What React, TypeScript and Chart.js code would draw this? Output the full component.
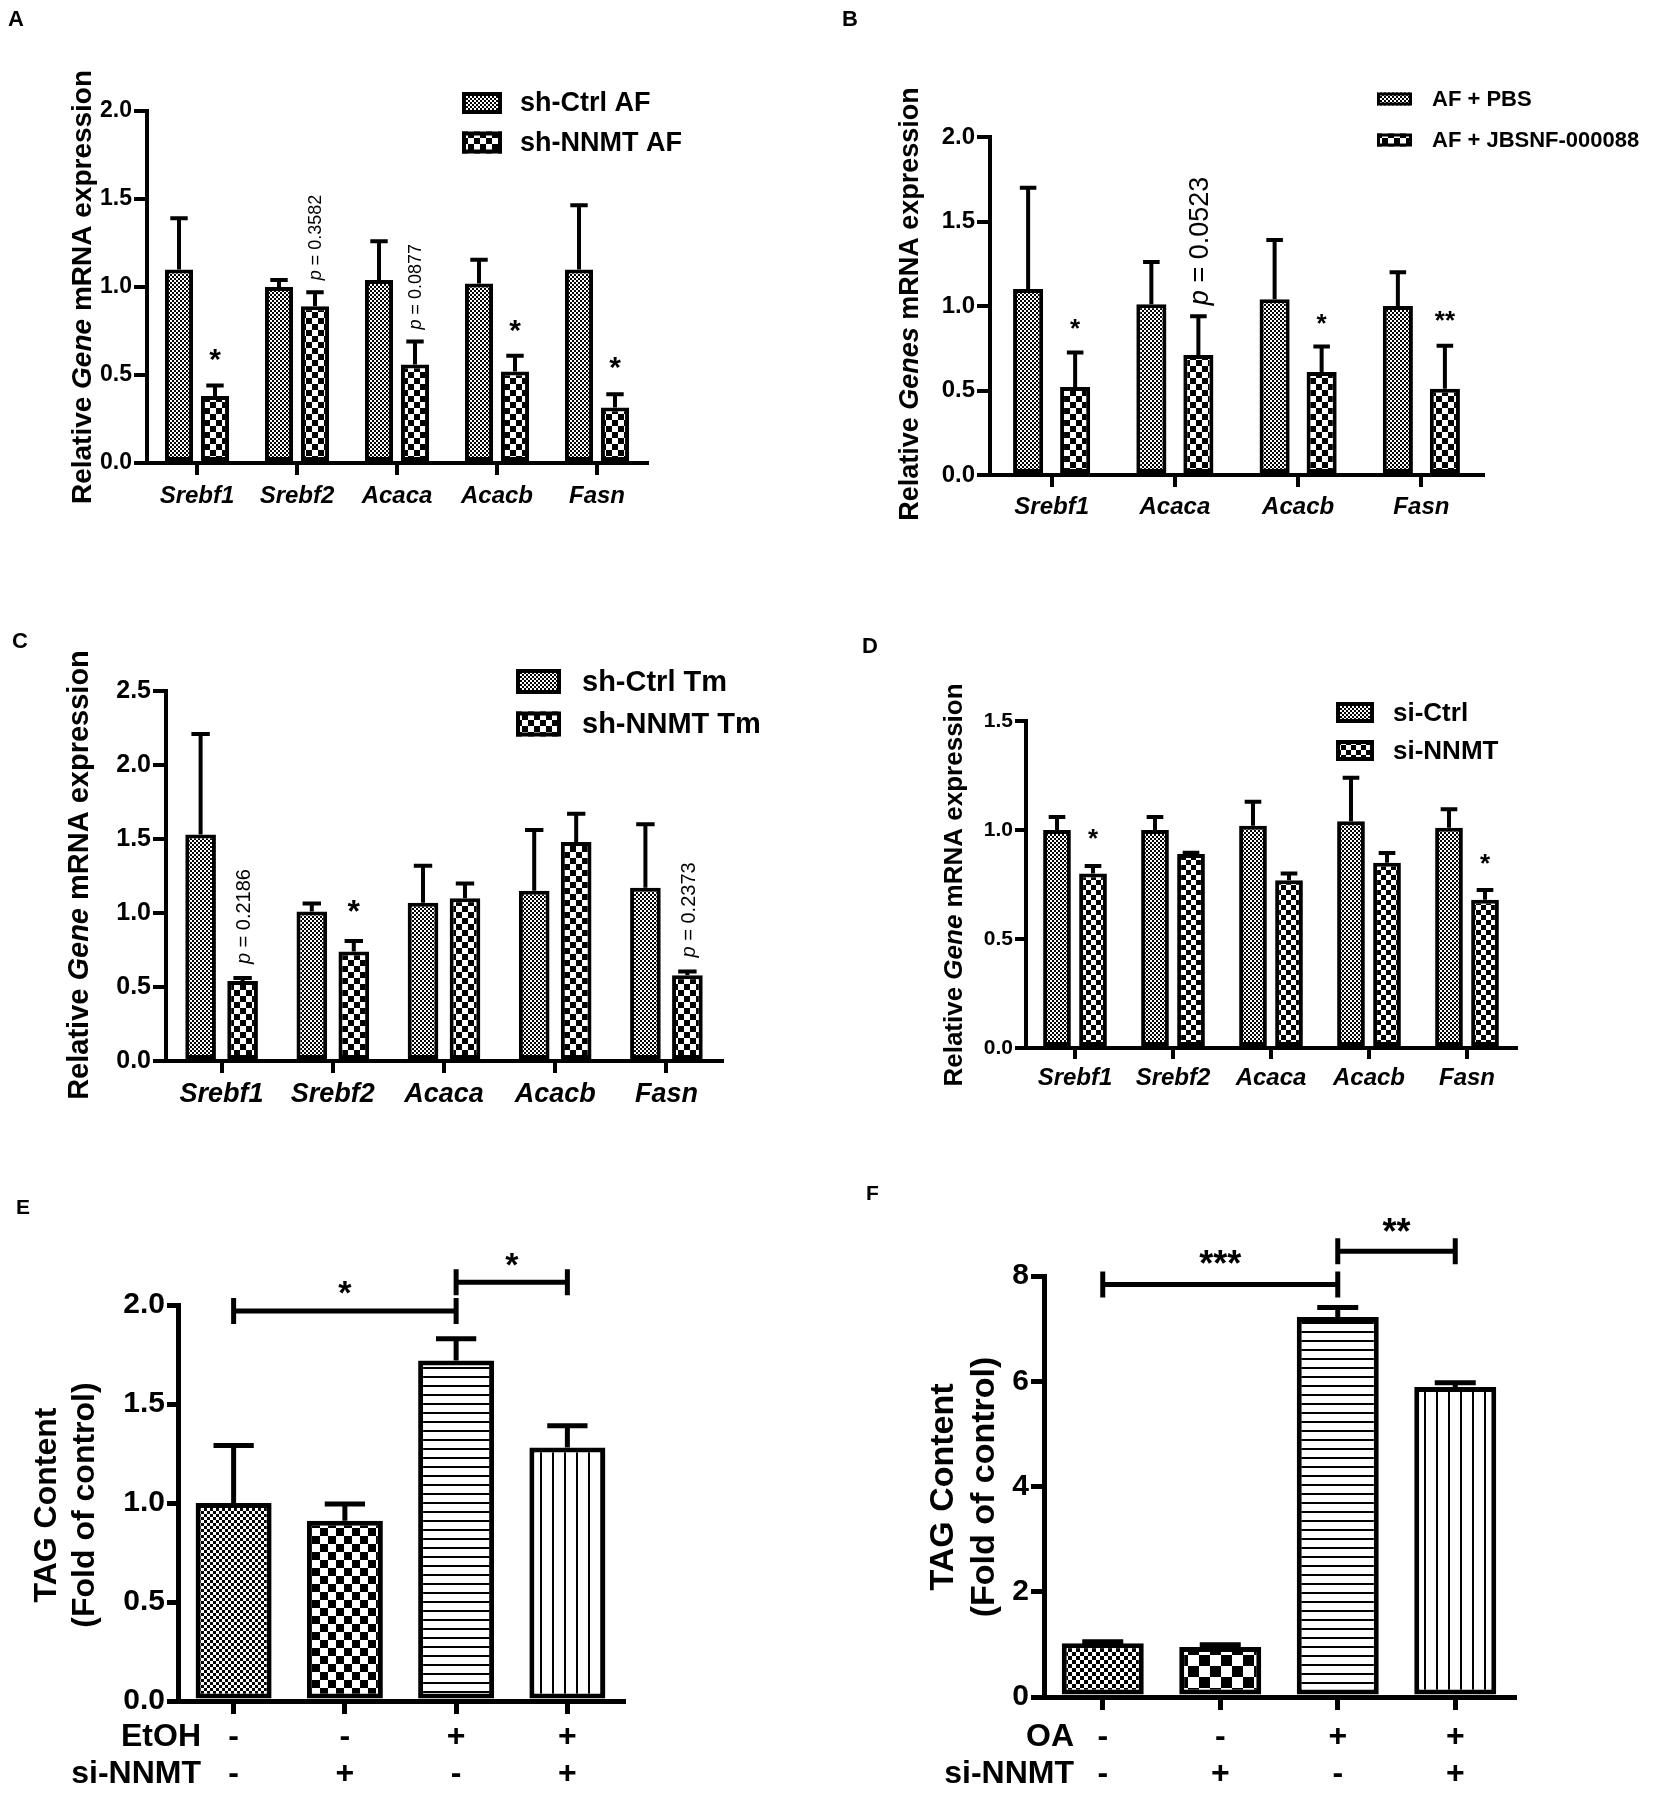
import React, { useEffect, useRef } from 'react';
import { Chart, registerables } from 'chart.js';

Chart.register(...registerables);

const FONT = '"Liberation Sans", Arial, Helvetica, sans-serif';

// ---------------- Panel A ----------------
const genesA = ['Srebf1', 'Srebf2', 'Acaca', 'Acacb', 'Fasn'];
const seriesA = ['sh-Ctrl AF', 'sh-NNMT AF'];
const ctrlA = [1.10, 1.00, 1.04, 1.02, 1.10];
const ctrlErrA = [0.29, 0.04, 0.22, 0.135, 0.365];
const nnmtA = [0.38, 0.89, 0.56, 0.52, 0.315];
const nnmtErrA = [0.06, 0.08, 0.13, 0.09, 0.075];
const yTicksA = [0, 0.5, 1.0, 1.5, 2.0];
const starsA: [number, number, string][] = [[0, 0.63, '*'], [3, 0.795, '*'], [4, 0.585, '*']];
const pValsA: [number, string][] = [[1, 'p = 0.3582'], [2, 'p = 0.0877']];

// ---------------- Panel B ----------------
const genesB = ['Srebf1', 'Acaca', 'Acacb', 'Fasn'];
const seriesB = ['AF + PBS', 'AF + JBSNF-000088'];
const pbsB = [1.10, 1.01, 1.04, 1.00];
const pbsErrB = [0.60, 0.25, 0.35, 0.20];
const jbB = [0.52, 0.71, 0.61, 0.51];
const jbErrB = [0.205, 0.23, 0.15, 0.255];
const yTicksB = [0, 0.5, 1.0, 1.5, 2.0];
const starsB: [number, number, string][] = [[0, 0.90, '*'], [2, 0.93, '*'], [3, 0.95, '**']];
const pValsB: [number, string][] = [[1, 'p = 0.0523']];

// ---------------- Panel C ----------------
const genesC = ['Srebf1', 'Srebf2', 'Acaca', 'Acacb', 'Fasn'];
const seriesC = ['sh-Ctrl Tm', 'sh-NNMT Tm'];
const ctrlC = [1.53, 1.01, 1.07, 1.15, 1.17];
const ctrlErrC = [0.68, 0.055, 0.25, 0.41, 0.43];
const nnmtC = [0.54, 0.74, 1.10, 1.48, 0.58];
const nnmtErrC = [0.02, 0.07, 0.10, 0.19, 0.025];
const yTicksC = [0, 0.5, 1.0, 1.5, 2.0, 2.5];
const starsC: [number, number, string][] = [[1, 1.06, '*']];
const pValsC: [number, string][] = [[0, 'p = 0.2186'], [4, 'p = 0.2373']];

// ---------------- Panel D ----------------
const genesD = ['Srebf1', 'Srebf2', 'Acaca', 'Acacb', 'Fasn'];
const seriesD = ['si-Ctrl', 'si-NNMT'];
const ctrlD = [1.00, 1.00, 1.02, 1.04, 1.01];
const ctrlErrD = [0.06, 0.06, 0.11, 0.20, 0.085];
const nnmtD = [0.80, 0.89, 0.77, 0.85, 0.68];
const nnmtErrD = [0.035, 0.006, 0.03, 0.045, 0.045];
const yTicksD = [0, 0.5, 1.0, 1.5];
const starsD: [number, number, string][] = [[0, 0.99, '*'], [4, 0.876, '*']];

// ---------------- Panel E ----------------
const etohE = ['-', '-', '+', '+'];
const siE = ['-', '+', '-', '+'];
const rowHeadsE = ['EtOH', 'si-NNMT'];
const tagE = [1.00, 0.91, 1.72, 1.28];
const tagErrE = [0.29, 0.085, 0.11, 0.11];
const yTicksE = [0, 0.5, 1.0, 1.5, 2.0];
const bracketsE: [number, number, number, number, string][] = [[0, 2, 1.97, 2.10, '*'], [2, 3, 2.115, 2.245, '*']];

// ---------------- Panel F ----------------
const oaF = ['-', '-', '+', '+'];
const siF = ['-', '+', '-', '+'];
const rowHeadsF = ['OA', 'si-NNMT'];
const tagF = [1.02, 0.95, 7.22, 5.89];
const tagErrF = [0.03, 0.045, 0.18, 0.08];
const yTicksF = [0, 2, 4, 6, 8];
const bracketsF: [number, number, number, number, string][] = [[0, 2, 7.84, 8.38, '***'], [2, 3, 8.47, 9.0, '**']];

type Seg = [string, boolean];
type PatKind = 'fine' | 'coarse' | 'hline' | 'vline';

function checker(ctx: CanvasRenderingContext2D, cell: number) {
  const t = document.createElement('canvas');
  t.width = t.height = cell * 2;
  const g = t.getContext('2d')!;
  g.fillStyle = '#fff';
  g.fillRect(0, 0, cell * 2, cell * 2);
  g.fillStyle = '#000';
  g.fillRect(0, 0, cell, cell);
  g.fillRect(cell, cell, cell, cell);
  return ctx.createPattern(t, 'repeat')!;
}

function stripes(ctx: CanvasRenderingContext2D, period: number, thick: number, horizontal: boolean) {
  const t = document.createElement('canvas');
  t.width = horizontal ? 4 : period;
  t.height = horizontal ? period : 4;
  const g = t.getContext('2d')!;
  g.fillStyle = '#fff';
  g.fillRect(0, 0, t.width, t.height);
  g.fillStyle = '#000';
  if (horizontal) g.fillRect(0, 0, 4, thick);
  else g.fillRect(0, 0, thick, 4);
  return ctx.createPattern(t, 'repeat')!;
}

function drawSegs(ctx: CanvasRenderingContext2D, segs: Seg[], size: number, weight: string,
  x: number, y: number, align: 'center' | 'left', rotate: boolean) {
  ctx.save();
  ctx.translate(x, y);
  if (rotate) ctx.rotate(-Math.PI / 2);
  const fonts = segs.map(([, it]) => `${it ? 'italic ' : ''}${weight} ${size}px ${FONT}`);
  let total = 0;
  const widths = segs.map(([t], k) => {
    ctx.font = fonts[k];
    const w = ctx.measureText(t).width;
    total += w;
    return w;
  });
  let cur = align === 'center' ? -total / 2 : 0;
  ctx.textAlign = 'left';
  ctx.textBaseline = 'alphabetic';
  ctx.fillStyle = '#000';
  segs.forEach(([t], k) => {
    ctx.font = fonts[k];
    ctx.fillText(t, cur, 0);
    cur += widths[k];
  });
  ctx.restore();
}

function pSegs(text: string): Seg[] {
  return [[text.slice(0, 1), true], [text.slice(1), false]];
}

interface PanelDef {
  letter: string; letterX: number; letterY: number; letterSize: number;
  rect: [number, number, number, number];
  area: [number, number, number, number];
  labels: (string | string[])[];
  sets: { label: string; data: number[]; err: number[]; pat: PatKind | PatKind[] }[];
  yTicks: number[]; decimals: number;
  catPct: number; barPct: number;
  lw: number; axisW: number; errW: number; capFrac: number;
  fineCell: number; coarseCell: number; hPeriod: number; vPeriod: number;
  yFont: number; yTickLen: number; yPad: number;
  xFont: number; xItalic: boolean; xTickLen: number; xPad: number; xLineH: number;
  titleLines: { segs: Seg[]; x: number }[]; titleY: number; titleSize: number;
  legend?: { boxL: number; boxW: number; boxH: number; rows: number[]; textX: number; size: number; lw: number };
  stars?: [number, number, string][]; starSize?: number;
  pvals?: [number, string][]; pSize?: number; pGap?: number;
  brackets?: [number, number, number, number, string][]; bracketW?: number; bracketTick?: number;
  rowHeads?: { texts: string[]; right: number; size: number };
}

const titleGene = (word: string): Seg[] => [['Relative ', false], [word, true], [' mRNA expression', false]];

const PANELS: PanelDef[] = [
  {
    letter: 'A', letterX: 8, letterY: 26, letterSize: 22,
    rect: [0, 0, 836, 600], area: [147, 111, 647, 463],
    labels: genesA,
    sets: [
      { label: seriesA[0], data: ctrlA, err: ctrlErrA, pat: 'fine' },
      { label: seriesA[1], data: nnmtA, err: nnmtErrA, pat: 'coarse' },
    ],
    yTicks: yTicksA, decimals: 1, catPct: 0.72, barPct: 0.78,
    lw: 4, axisW: 4, errW: 4, capFrac: 0.62,
    fineCell: 2, coarseCell: 6, hPeriod: 9, vPeriod: 12,
    yFont: 23, yTickLen: 13, yPad: 2,
    xFont: 24, xItalic: true, xTickLen: 12, xPad: 6.6, xLineH: 28.8,
    titleLines: [{ segs: titleGene('Gene'), x: 91 }], titleY: 287, titleSize: 28,
    legend: { boxL: 462, boxW: 40, boxH: 22, rows: [103, 142.5], textX: 520, size: 27, lw: 4 },
    stars: starsA, starSize: 30, pvals: pValsA, pSize: 18, pGap: 12,
  },
  {
    letter: 'B', letterX: 842, letterY: 26, letterSize: 22,
    rect: [836, 0, 837, 600], area: [990, 137, 1483, 475],
    labels: genesB,
    sets: [
      { label: seriesB[0], data: pbsB, err: pbsErrB, pat: 'fine' },
      { label: seriesB[1], data: jbB, err: jbErrB, pat: 'coarse' },
    ],
    yTicks: yTicksB, decimals: 1, catPct: 0.763, barPct: 0.64,
    lw: 4, axisW: 4, errW: 4, capFrac: 0.55,
    fineCell: 2, coarseCell: 6, hPeriod: 9, vPeriod: 12,
    yFont: 24, yTickLen: 13, yPad: 2,
    xFont: 24, xItalic: true, xTickLen: 12, xPad: 5.6, xLineH: 28.8,
    titleLines: [{ segs: titleGene('Genes'), x: 918 }], titleY: 304, titleSize: 27,
    legend: { boxL: 1377, boxW: 35, boxH: 13, rows: [99, 140], textX: 1432, size: 22, lw: 3 },
    stars: starsB, starSize: 26, pvals: pValsB, pSize: 27, pGap: 11,
  },
  {
    letter: 'C', letterX: 12, letterY: 648, letterSize: 22,
    rect: [0, 600, 836, 560], area: [166, 691, 722, 1061],
    labels: genesC,
    sets: [
      { label: seriesC[0], data: ctrlC, err: ctrlErrC, pat: 'fine' },
      { label: seriesC[1], data: nnmtC, err: nnmtErrC, pat: 'coarse' },
    ],
    yTicks: yTicksC, decimals: 1, catPct: 0.755, barPct: 0.73,
    lw: 4, axisW: 4, errW: 4, capFrac: 0.6,
    fineCell: 2, coarseCell: 6, hPeriod: 9, vPeriod: 12,
    yFont: 25, yTickLen: 13, yPad: 2,
    xFont: 27, xItalic: true, xTickLen: 12, xPad: 5.8, xLineH: 32.4,
    titleLines: [{ segs: titleGene('Gene'), x: 88 }], titleY: 875, titleSize: 29,
    legend: { boxL: 516, boxW: 45, boxH: 25, rows: [681.5, 724], textX: 582, size: 29, lw: 4 },
    stars: starsC, starSize: 32, pvals: pValsC, pSize: 20, pGap: 14,
  },
  {
    letter: 'D', letterX: 862, letterY: 653, letterSize: 22,
    rect: [836, 600, 837, 560], area: [1026, 721, 1516, 1048],
    labels: genesD,
    sets: [
      { label: seriesD[0], data: ctrlD, err: ctrlErrD, pat: 'fine' },
      { label: seriesD[1], data: nnmtD, err: nnmtErrD, pat: 'coarse' },
    ],
    yTicks: yTicksD, decimals: 1, catPct: 0.735, barPct: 0.77,
    lw: 4, axisW: 4, errW: 4, capFrac: 0.6,
    fineCell: 2, coarseCell: 5, hPeriod: 9, vPeriod: 12,
    yFont: 21, yTickLen: 11, yPad: 2,
    xFont: 24, xItalic: true, xTickLen: 11, xPad: 4.6, xLineH: 28.8,
    titleLines: [{ segs: titleGene('Gene'), x: 962 }], titleY: 885, titleSize: 26,
    legend: { boxL: 1336, boxW: 38, boxH: 21, rows: [712.5, 750.5], textX: 1393, size: 26, lw: 4 },
    stars: starsD, starSize: 26,
  },
  {
    letter: 'E', letterX: 16, letterY: 1214, letterSize: 21,
    rect: [0, 1160, 836, 640], area: [178, 1305, 623, 1701],
    labels: etohE.map((e, i) => [e, siE[i]]),
    sets: [{ label: 'TAG', data: tagE, err: tagErrE, pat: ['fine', 'coarse', 'hline', 'vline'] }],
    yTicks: yTicksE, decimals: 1, catPct: 0.683, barPct: 1,
    lw: 5, axisW: 5, errW: 5, capFrac: 0.53,
    fineCell: 3, coarseCell: 8, hPeriod: 9, vPeriod: 12,
    yFont: 30, yTickLen: 11, yPad: 2,
    xFont: 32, xItalic: false, xTickLen: 13, xPad: 4.5, xLineH: 37,
    titleLines: [{ segs: [['TAG Content', false]], x: 56 }, { segs: [['(Fold of control)', false]], x: 94 }],
    titleY: 1505, titleSize: 32,
    brackets: bracketsE, bracketW: 5, bracketTick: 13, starSize: 34,
    rowHeads: { texts: rowHeadsE, right: 201, size: 32 },
  },
  {
    letter: 'F', letterX: 866, letterY: 1200, letterSize: 21,
    rect: [836, 1160, 837, 640], area: [1044, 1276, 1514, 1697],
    labels: oaF.map((e, i) => [e, siF[i]]),
    sets: [{ label: 'TAG', data: tagF, err: tagErrF, pat: ['fine', 'coarse', 'hline', 'vline'] }],
    yTicks: yTicksF, decimals: 0, catPct: 0.698, barPct: 1,
    lw: 5, axisW: 5, errW: 5, capFrac: 0.5,
    fineCell: 4, coarseCell: 11, hPeriod: 9, vPeriod: 12,
    yFont: 30, yTickLen: 13, yPad: 2,
    xFont: 32, xItalic: false, xTickLen: 13, xPad: 8.5, xLineH: 37,
    titleLines: [{ segs: [['TAG Content', false]], x: 953 }, { segs: [['(Fold of control)', false]], x: 994 }],
    titleY: 1487, titleSize: 34,
    brackets: bracketsF, bracketW: 5, bracketTick: 13, starSize: 36,
    rowHeads: { texts: rowHeadsF, right: 1074, size: 32 },
  },
];

function buildConfig(p: PanelDef, ctx: CanvasRenderingContext2D): any {
  const [cx, cy, cw, ch] = p.rect;
  const [L, T, R, B] = p.area;
  const X = (v: number) => v - cx;
  const Y = (v: number) => v - cy;
  const pats: Record<PatKind, CanvasPattern> = {
    fine: checker(ctx, p.fineCell),
    coarse: checker(ctx, p.coarseCell),
    hline: stripes(ctx, p.hPeriod, 2, true),
    vline: stripes(ctx, p.vPeriod, 2, false),
  };
  const datasets = p.sets.map((s) => ({
    label: s.label,
    data: s.data,
    err: s.err,
    backgroundColor: Array.isArray(s.pat) ? s.pat.map((k) => pats[k]) : pats[s.pat],
    borderColor: '#000',
    borderWidth: p.lw,
    borderSkipped: false,
    categoryPercentage: p.catPct,
    barPercentage: p.barPct,
  }));

  const decor = {
    id: 'decor',
    afterDraw(chart: any) {
      const c: CanvasRenderingContext2D = chart.ctx;
      const ys = chart.scales.y;
      const xs = chart.scales.x;
      const area = chart.chartArea;
      c.save();
      c.fillStyle = '#000';
      c.strokeStyle = '#000';
      // panel letter
      c.font = `bold ${p.letterSize}px ${FONT}`;
      c.textAlign = 'left';
      c.textBaseline = 'alphabetic';
      c.fillText(p.letter, X(p.letterX), Y(p.letterY));
      // y title
      p.titleLines.forEach((l) => drawSegs(c, l.segs, p.titleSize, 'bold', X(l.x), Y(p.titleY), 'center', true));
      // error bars
      chart.data.datasets.forEach((ds: any, di: number) => {
        const meta = chart.getDatasetMeta(di);
        meta.data.forEach((bar: any, i: number) => {
          const top = ys.getPixelForValue(ds.data[i] + ds.err[i]);
          const cap = bar.width * p.capFrac;
          c.lineWidth = p.errW;
          c.lineCap = 'butt';
          c.beginPath();
          c.moveTo(bar.x, bar.y);
          c.lineTo(bar.x, top);
          c.moveTo(bar.x - cap / 2, top);
          c.lineTo(bar.x + cap / 2, top);
          c.stroke();
        });
      });
      // legend
      if (p.legend) {
        const lg = p.legend;
        p.sets.forEach((s, k) => {
          const yc = Y(lg.rows[k]);
          const x0 = X(lg.boxL);
          const pat = Array.isArray(s.pat) ? pats[s.pat[0]] : pats[s.pat];
          c.fillStyle = pat as any;
          c.fillRect(x0, yc - lg.boxH / 2, lg.boxW, lg.boxH);
          c.lineWidth = lg.lw;
          c.strokeStyle = '#000';
          c.strokeRect(x0 + lg.lw / 2, yc - lg.boxH / 2 + lg.lw / 2, lg.boxW - lg.lw, lg.boxH - lg.lw);
          c.fillStyle = '#000';
          c.font = `bold ${lg.size}px ${FONT}`;
          c.textAlign = 'left';
          c.textBaseline = 'middle';
          c.fillText(s.label, X(lg.textX), yc + 1);
        });
      }
      // stars on second series
      if (p.stars && chart.data.datasets.length > 1) {
        const meta = chart.getDatasetMeta(1);
        const sz = p.starSize || 26;
        c.fillStyle = '#000';
        c.font = `bold ${sz}px ${FONT}`;
        c.textAlign = 'center';
        c.textBaseline = 'alphabetic';
        p.stars.forEach(([i, v, t]) => {
          c.fillText(t, meta.data[i].x, ys.getPixelForValue(v) + 0.56 * sz);
        });
      }
      // p values
      if (p.pvals) {
        const meta = chart.getDatasetMeta(1);
        const ds = chart.data.datasets[1];
        const sz = p.pSize || 18;
        p.pvals.forEach(([i, t]) => {
          const top = ys.getPixelForValue(ds.data[i] + ds.err[i]);
          drawSegs(c, pSegs(t), sz, 'normal', meta.data[i].x + 0.36 * sz, top - (p.pGap || 12), 'left', true);
        });
      }
      // significance brackets
      if (p.brackets) {
        const sz = p.starSize || 34;
        const tk = p.bracketTick || 13;
        p.brackets.forEach(([a, b, v, vt, t]) => {
          const x1 = xs.getPixelForValue(a);
          const x2 = xs.getPixelForValue(b);
          const y = ys.getPixelForValue(v);
          c.lineWidth = p.bracketW || 5;
          c.strokeStyle = '#000';
          c.beginPath();
          c.moveTo(x1, y); c.lineTo(x2, y);
          c.moveTo(x1, y - tk); c.lineTo(x1, y + tk);
          c.moveTo(x2, y - tk); c.lineTo(x2, y + tk);
          c.stroke();
          c.fillStyle = '#000';
          c.font = `bold ${sz}px ${FONT}`;
          c.textAlign = 'center';
          c.textBaseline = 'alphabetic';
          c.fillText(t, (x1 + x2) / 2, ys.getPixelForValue(vt) + 0.56 * sz);
        });
      }
      // row headers under x axis
      if (p.rowHeads) {
        const rh = p.rowHeads;
        c.fillStyle = '#000';
        c.font = `bold ${rh.size}px ${FONT}`;
        c.textAlign = 'right';
        c.textBaseline = 'middle';
        rh.texts.forEach((t, k) => {
          c.fillText(t, X(rh.right), area.bottom + p.xTickLen + p.xPad + p.xLineH * (k + 0.5));
        });
      }
      c.restore();
    },
  };

  return {
    type: 'bar',
    data: { labels: p.labels, datasets },
    options: {
      responsive: false,
      animation: false,
      events: [],
      layout: { padding: { left: 0, top: T - cy, right: cx + cw - R, bottom: 0 } },
      plugins: { legend: { display: false }, tooltip: { enabled: false }, title: { display: false } },
      scales: {
        x: {
          type: 'category',
          offset: true,
          afterFit: (s: any) => { s.height = cy + ch - B; },
          border: { display: true, color: '#000', width: p.axisW },
          grid: {
            offset: false, drawOnChartArea: false, drawTicks: true,
            tickLength: p.xTickLen, tickColor: '#000', tickWidth: p.axisW, color: '#000', lineWidth: p.axisW,
          },
          ticks: {
            color: '#000', padding: p.xPad, maxRotation: 0, autoSkip: false,
            font: {
              family: FONT, size: p.xFont, weight: 'bold',
              style: p.xItalic ? 'italic' : 'normal', lineHeight: p.xLineH / p.xFont,
            },
          },
        },
        y: {
          type: 'linear',
          min: p.yTicks[0],
          max: p.yTicks[p.yTicks.length - 1],
          afterFit: (s: any) => { s.width = L - cx; },
          afterBuildTicks: (s: any) => { s.ticks = p.yTicks.map((v) => ({ value: v })); },
          border: { display: true, color: '#000', width: p.axisW },
          grid: {
            drawOnChartArea: false, drawTicks: true, tickLength: p.yTickLen,
            tickColor: '#000', tickWidth: p.axisW, color: '#000', lineWidth: p.axisW,
          },
          ticks: {
            color: '#000', padding: p.yPad,
            font: { family: FONT, size: p.yFont, weight: 'bold' },
            callback: (v: any) => Number(v).toFixed(p.decimals),
          },
        },
      },
    },
    plugins: [decor],
  };
}

function PanelChart({ p }: { p: PanelDef }) {
  const ref = useRef<HTMLCanvasElement>(null);
  useEffect(() => {
    const canvas = ref.current!;
    const ctx = canvas.getContext('2d')!;
    const chart = new Chart(ctx, buildConfig(p, ctx));
    return () => chart.destroy();
  }, [p]);
  const [x, y, w, h] = p.rect;
  return (
    <canvas
      ref={ref}
      width={w}
      height={h}
      style={{ position: 'absolute', left: x, top: y, width: w, height: h, display: 'block' }}
    />
  );
}

export default function App() {
  return (
    <div style={{ position: 'absolute', left: 0, top: 0, width: 1673, height: 1800, background: '#fff', overflow: 'hidden' }}>
      {PANELS.map((p) => <PanelChart key={p.letter} p={p} />)}
    </div>
  );
}
